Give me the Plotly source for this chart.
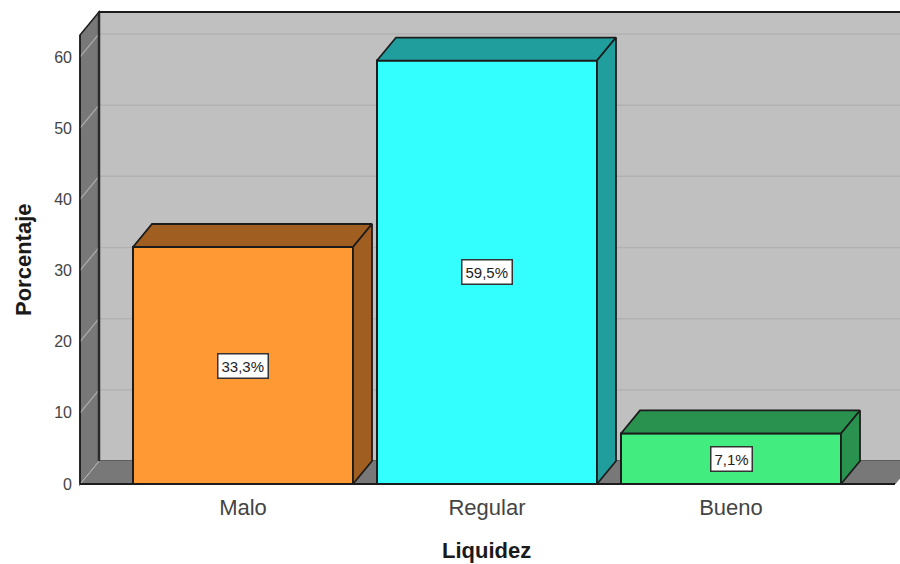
import plotly.graph_objects as go

categories = ["Malo", "Regular", "Bueno"]
values = [33.3, 59.5, 7.1]
labels = ["33,3%", "59,5%", "7,1%"]
front_colors = ["#FF9933", "#33FFFF", "#43EC7F"]
side_colors = ["#A05F20", "#209E9E", "#2A924F"]
y_ticks = [0, 10, 20, 30, 40, 50, 60]

W, H = 900, 564
L, R, T, B = 78, 0, 10, 78
PX_X = 244.0          # pixels per category
PX_Y = 7.117          # pixels per percent
X0_PX = 243.0         # pixel of first category
DX = 19 / PX_X        # depth offset
DY = 23 / PX_Y
BAR_W = 220 / PX_X
xr = [(L - X0_PX) / PX_X, (W - R - X0_PX) / PX_X]
yr = [-(H - B - 484) / PX_Y, (484 - T) / PX_Y]
left = (80 - X0_PX) / PX_X
x_end = (895 - X0_PX) / PX_X
top = (484 - 12) / PX_Y
EDGE = "#1c1c1c"

fig = go.Figure()


def poly(xs, ys, fill, line=EDGE, width=1.5):
    path = "M" + " L".join(f"{a},{b}" for a, b in zip(xs, ys)) + " Z"
    fig.add_shape(type="path", path=path, xref="x", yref="y", fillcolor=fill,
                  line=dict(color=line, width=width), layer="below")


def seg(x0, y0, x1, y1, color, width=1.5):
    fig.add_shape(type="line", x0=x0, y0=y0, x1=x1, y1=y1, xref="x", yref="y",
                  line=dict(color=color, width=width), layer="below")


wall_h = top - DY
# back wall, left wall, floor
poly([left + DX, xr[1] + 1, xr[1] + 1, left + DX],
     [DY, DY, top, top], "#C0C0C0", width=1.5)
poly([left, left + DX, left + DX, left], [0, DY, top, wall_h], "#787878")
poly([left, x_end, x_end + DX, left + DX], [0, 0, DY, DY], "#787878", line="#787878", width=1)
for t in y_ticks:
    if t > 0:
        seg(left + DX, t + DY, xr[1], t + DY, "#B2B2B2")
    seg(left, t, left + DX, t + DY, "#ADADAD", 1.2)
seg(left, 0, x_end, 0, EDGE, 2)
seg(left, 0, left, wall_h, EDGE, 1.5)
seg(left + DX, DY, left + DX, top, "#2a2a2a", 2.5)
seg(left + DX, top, xr[1], top, EDGE, 2)

fig.add_trace(go.Bar(
    x=list(range(len(categories))), y=values, width=BAR_W,
    marker=dict(color=front_colors, line=dict(color=EDGE, width=2)),
    hoverinfo="skip", showlegend=False,
))

for i, v in enumerate(values):
    a, b = i - BAR_W / 2, i + BAR_W / 2
    fig.add_trace(go.Scatter(
        x=[a, a + DX, b + DX, b, a], y=[v, v + DY, v + DY, v, v],
        mode="lines", fill="toself", fillcolor=side_colors[i],
        line=dict(color=EDGE, width=1.8), hoverinfo="skip", showlegend=False))
    fig.add_trace(go.Scatter(
        x=[b, b + DX, b + DX, b, b], y=[0, DY, v + DY, v, 0],
        mode="lines", fill="toself", fillcolor=side_colors[i],
        line=dict(color=EDGE, width=1.8), hoverinfo="skip", showlegend=False))
    fig.add_annotation(x=i, y=v / 2, text=labels[i], showarrow=False,
                       font=dict(family="Liberation Sans", size=15, color="#222222"),
                       bgcolor="white", bordercolor="#333333", borderwidth=1.5, borderpad=3)

plot_w, plot_h = W - L - R, H - B - T
fig.add_annotation(xref="paper", yref="paper", x=(486 - L) / plot_w, y=(H - B - 550.5) / plot_h,
                   xanchor="center", yanchor="middle",
                   text="<b>Liquidez</b>", showarrow=False,
                   font=dict(family="Liberation Sans", size=22, color="#1a1a1a"))
fig.add_annotation(xref="paper", yref="paper", x=(23 - L) / plot_w, y=(H - B - 260) / plot_h,
                   xanchor="center", yanchor="middle",
                   text="<b>Porcentaje</b>", textangle=-90, showarrow=False,
                   font=dict(family="Liberation Sans", size=22, color="#1a1a1a"))

fig.update_layout(
    width=W, height=H, margin=dict(l=L, r=R, t=T, b=B, pad=0, autoexpand=False),
    paper_bgcolor="white", plot_bgcolor="white", showlegend=False,
)
fig.update_xaxes(range=xr, tickvals=list(range(len(categories))), ticktext=categories,
                 showgrid=False, zeroline=False, showline=False, ticks="",
                 ticklabelstandoff=6,
                 tickfont=dict(family="Liberation Sans", size=22, color="#444444"))
fig.update_yaxes(range=yr, tickvals=y_ticks, showgrid=False, zeroline=False,
                 showline=False, ticks="", ticklabelstandoff=5,
                 tickfont=dict(family="Liberation Sans", size=16, color="#444444"))
fig.write_html("out.html", config=dict(displayModeBar=False),
               post_script="document.body.style.margin='0';document.body.style.overflow='hidden';window.dispatchEvent(new Event('resize'));")
